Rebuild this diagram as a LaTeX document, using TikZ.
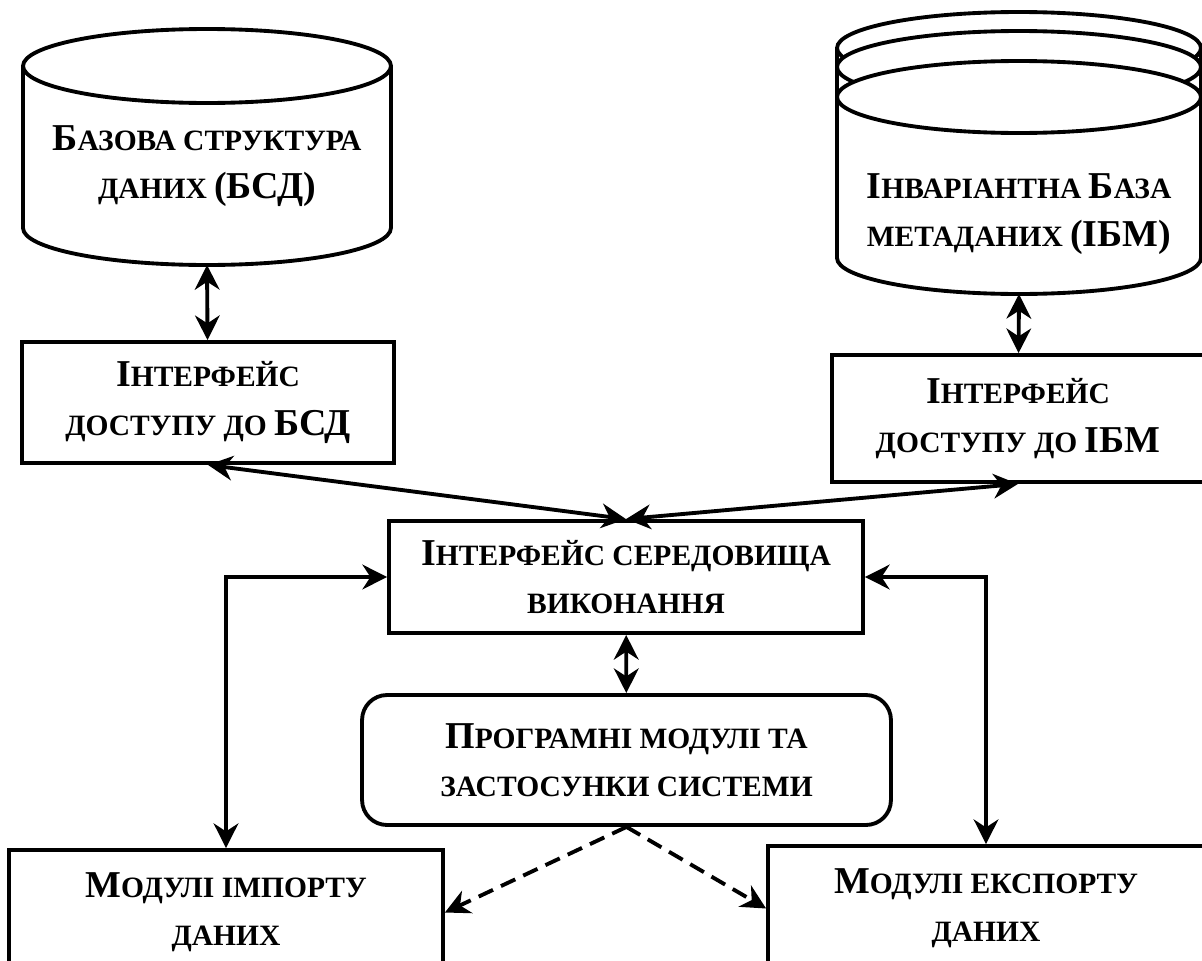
\documentclass[tikz,border=0pt]{standalone}
\usepackage{fontspec}
\setmainfont{Liberation Serif}
\usetikzlibrary{positioning, arrows.meta}
\newcommand{\bigc}[1]{{\fontsize{21.6}{27}\selectfont #1}}

\begin{document}
\begin{tikzpicture}[
  x=0.02cm, y=-0.02cm,
  line width=2.2pt,
  >={Stealth[length=14pt, width=14pt, inset=4.5pt]},
  box/.style={draw, align=center, inner sep=2pt,
              font=\fontsize{16.8}{27.5}\selectfont\bfseries},
  dbtext/.style={align=center, inner sep=0pt,
                 font=\fontsize{16.8}{27.5}\selectfont\bfseries},
  dasharrow/.style={->, dash pattern=on 9pt off 5pt},
]
  \useasboundingbox (0,0) rectangle (1202,960);
  % Base data structure (cylinder)
  \draw (23,66) -- (23,228) arc[start angle=180, end angle=360, x radius=3.68cm, y radius=0.74cm] -- (391,66);
  \draw (207,66) ellipse [x radius=3.68cm, y radius=0.74cm];
  \node[dbtext] (bsd) at (207,166) {\bigc{Б}АЗОВА СТРУКТУРА\\ДАНИХ \bigc{(БСД)}};
  \coordinate (bsdbase) at (207,265);
  % Metadata base (stacked cylinder)
  \draw (837,48) -- (837,258) arc[start angle=180, end angle=360, x radius=3.64cm, y radius=0.72cm] -- (1201,48);
  \draw (1019,48) ellipse [x radius=3.64cm, y radius=0.72cm];
  \draw[fill=white] (1019,67) ellipse [x radius=3.64cm, y radius=0.72cm];
  \draw[fill=white] (1019,97) ellipse [x radius=3.64cm, y radius=0.72cm];
  \node[dbtext] (ibm) at (1019,214) {\bigc{І}НВАРІАНТНА \bigc{Б}АЗА\\МЕТАДАНИХ \bigc{(ІБМ)}};
  \coordinate (ibmbase) at (1019,294);
  % Access interfaces
  \node[box, minimum width=7.44cm, minimum height=2.42cm] (ibsd) at (208,402.5)
    {\bigc{І}НТЕРФЕЙС\\ДОСТУПУ ДО \bigc{БСД}};
  \node[box, minimum width=7.44cm, minimum height=2.54cm] (iibm) at (1018,418.5)
    {\bigc{І}НТЕРФЕЙС\\ДОСТУПУ ДО \bigc{ІБМ}};
  % Runtime interface
  \node[box, minimum width=9.48cm, minimum height=2.24cm] (env) at (626,577)
    {\bigc{І}НТЕРФЕЙС СЕРЕДОВИЩА\\ВИКОНАННЯ};
  % Program modules
  \node[box, rounded corners=0.5cm, minimum width=10.58cm, minimum height=2.6cm] (prog) at (626.5,760)
    {\bigc{П}РОГРАМНІ МОДУЛІ ТА\\ЗАСТОСУНКИ СИСТЕМИ};
  % Import / export
  \node[box, minimum width=8.68cm, minimum height=2.5cm] (imp) at (226,912.5)
    {\bigc{М}ОДУЛІ ІМПОРТУ\\ДАНИХ};
  \node[box, minimum width=8.72cm, minimum height=2.5cm] (exp) at (986,908.5)
    {\bigc{М}ОДУЛІ ЕКСПОРТУ\\ДАНИХ};
  % Arrows
  \draw[<->] (bsdbase) -- (ibsd);
  \draw[<->] (ibmbase) -- (iibm);
  \draw[<->] (ibsd.south) -- (env.north);
  \draw[<->] (iibm.south) -- (env.north);
  \draw[<->] (env) -- (prog);
  \draw[<->] (imp.north) |- (env.west);
  \draw[<->] (exp.north) |- (env.east);
  \draw[dasharrow] (prog.south) -- (imp.east);
  \draw[dasharrow] (prog.south) -- (exp.west);
\end{tikzpicture}
\end{document}
